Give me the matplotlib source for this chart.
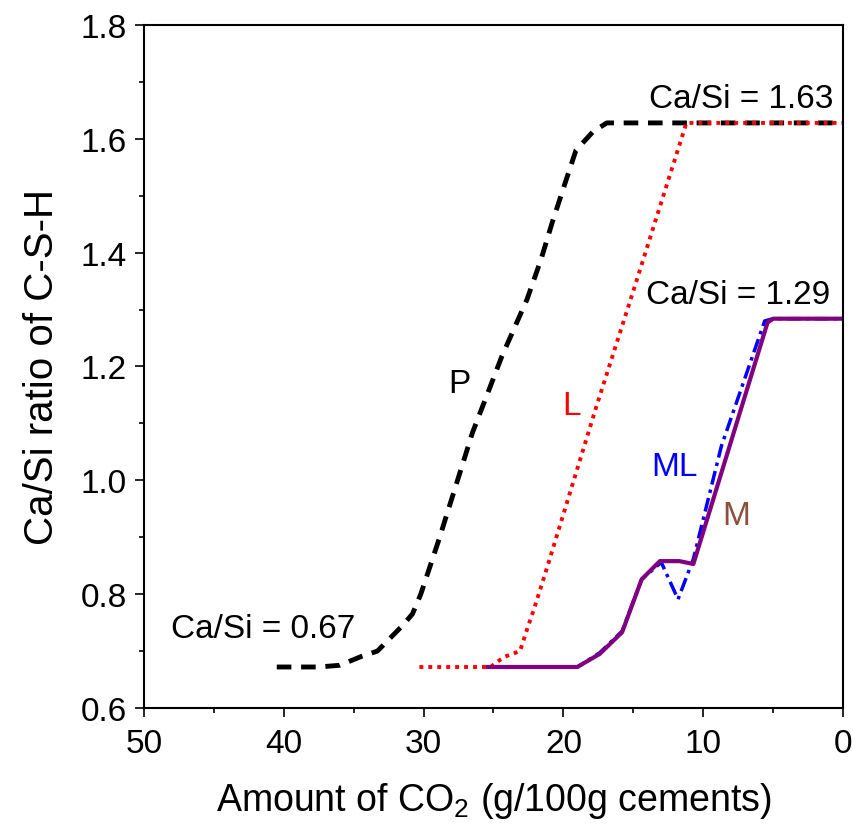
import matplotlib
matplotlib.use("Agg")
import matplotlib.pyplot as plt
from matplotlib.ticker import MultipleLocator

plt.rcParams['font.family'] = ['Liberation Sans', 'DejaVu Sans']
plt.rcParams['mathtext.fontset'] = 'custom'
plt.rcParams['mathtext.rm'] = 'Liberation Sans'
plt.rcParams['mathtext.it'] = 'Liberation Sans:italic'

# CO2 uptake (g/100g cement) vs. Ca/Si ratio of C-S-H for each cement
p_co2 = [40.5, 37.5, 36.0, 34.5, 33.3, 31.5, 30.8, 30.2, 28.9, 27.7, 26.5, 25.4,
         24.4, 22.6, 21.6, 20.8, 19.8, 19.1, 17.9, 16.9, 0.0]
p_casi = [0.672, 0.672, 0.675, 0.690, 0.700, 0.745, 0.765, 0.800, 0.896, 0.990,
          1.084, 1.154, 1.218, 1.318, 1.388, 1.453, 1.528, 1.580, 1.612, 1.628, 1.628]

l_co2 = [30.3, 25.2, 24.8, 24.2, 23.1, 22.6, 22.1, 21.2, 17.7, 14.8, 13.3, 11.2, 0.0]
l_casi = [0.672, 0.672, 0.680, 0.690, 0.700, 0.738, 0.774, 0.844, 1.125, 1.348,
          1.465, 1.628, 1.628]

m_co2 = [25.4, 19.0, 17.4, 15.8, 14.4, 13.1, 11.7, 10.7, 5.4, 5.0, 0.2]
m_casi = [0.672, 0.672, 0.695, 0.733, 0.826, 0.858, 0.858, 0.853, 1.277, 1.284, 1.284]

ml_co2 = [25.4, 19.0, 17.4, 15.8, 14.4, 13.0, 11.8, 10.7, 8.7, 5.6, 5.0, 0.2]
ml_casi = [0.672, 0.672, 0.697, 0.735, 0.826, 0.856, 0.791, 0.862, 1.060, 1.280,
           1.284, 1.284]

fig = plt.figure(figsize=(8.54, 8.29), dpi=100)
ax = fig.add_axes([0.1686, 0.1448, 0.8185, 0.8238])

ax.plot(p_co2, p_casi, color='black', lw=3.5, ls=(0, (3, 2)))
ax.plot(l_co2, l_casi, color='red', lw=2.8, ls=(0, (1, 1.3)))
ax.plot(ml_co2, ml_casi, color='blue', lw=2.5, ls=(0, (4, 1.5, 1, 1.5)))
ax.plot(m_co2, m_casi, color='#800080', lw=3.0, ls='-')

fs = 24
ax.text(0.7, 1.656, 'Ca/Si = 1.63', fontsize=fs, ha='right', va='baseline')
ax.text(0.9, 1.312, 'Ca/Si = 1.29', fontsize=fs, ha='right', va='baseline')
ax.text(48.1, 0.725, 'Ca/Si = 0.67', fontsize=fs, ha='left', va='baseline')
ax.text(28.2, 1.156, 'P', fontsize=fs, color='black', ha='left', va='baseline')
ax.text(20.1, 1.116, 'L', fontsize=fs, color='red', ha='left', va='baseline')
ax.text(13.7, 1.01, 'ML', fontsize=fs, color='blue', ha='left', va='baseline')
ax.text(8.67, 0.923, 'M', fontsize=fs, color='#8B4F3A', ha='left', va='baseline')

ax.set_xlim(50, 0)
ax.set_ylim(0.6, 1.8)
ax.xaxis.set_major_locator(MultipleLocator(10))
ax.xaxis.set_minor_locator(MultipleLocator(5))
ax.yaxis.set_major_locator(MultipleLocator(0.2))
ax.yaxis.set_minor_locator(MultipleLocator(0.1))
ax.yaxis.set_major_formatter(plt.FormatStrFormatter('%.1f'))

ax.tick_params(which='major', direction='out', length=6.5, width=1.2,
               labelsize=fs, pad=6)
ax.tick_params(axis='x', which='major', pad=8)
ax.tick_params(which='minor', direction='out', length=3.5, width=1.2)
for s in ax.spines.values():
    s.set_linewidth(1.5)

ax.set_xlabel('Amount of CO$_2$ (g/100g cements)', fontsize=27, labelpad=15)
ax.set_ylabel('Ca/Si ratio of C-S-H', fontsize=29, labelpad=14)

fig.savefig('out.png', dpi=100)
